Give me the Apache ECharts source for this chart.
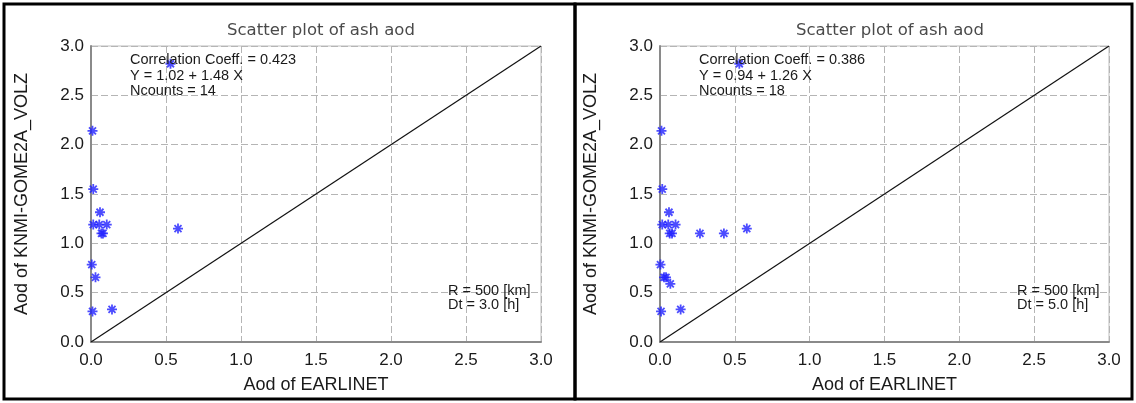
<!DOCTYPE html>
<html>
<head>
<meta charset="utf-8">
<script src="https://cdn.jsdelivr.net/npm/echarts@6/dist/echarts.min.js"></script>
<style>
  html, body { margin: 0; padding: 0; background: #fff; }
  #chart { width: 1136px; height: 403px; }
</style>
</head>
<body>
<div id="chart"></div>
<script>
// Ash AOD: satellite (KNMI-GOME2A_VOLZ) against ground lidar (EARLINET)
// Panel 1: R = 500 km, Dt = 3.0 h
const earlinet3h = [0.53, 0.01, 0.015, 0.06, 0.015, 0.055, 0.105, 0.07, 0.08, 0.58, 0.005, 0.03, 0.01, 0.14];
const gome3h     = [2.82, 2.14, 1.55, 1.315, 1.19, 1.19, 1.19, 1.10, 1.10, 1.15, 0.785, 0.655, 0.31, 0.33];
// Panel 2: R = 500 km, Dt = 5.0 h
const earlinet5h = [0.53, 0.01, 0.015, 0.06, 0.015, 0.055, 0.104, 0.065, 0.08, 0.267, 0.427, 0.58, 0.003, 0.027, 0.04, 0.069, 0.007, 0.138];
const gome5h     = [2.82, 2.14, 1.55, 1.315, 1.19, 1.19, 1.19, 1.10, 1.10, 1.10, 1.10, 1.15, 0.785, 0.655, 0.655, 0.59, 0.31, 0.33];
// 1:1 reference line end points
const oneToOne = [0, 3];
const axisTicks = [0.0, 0.5, 1.0, 1.5, 2.0, 2.5, 3.0];

const titleText = 'Scatter plot of ash aod';
const xName = 'Aod of EARLINET';
const yName = 'Aod of KNMI-GOME2A_VOLZ';
const stats3h = ['Correlation Coeff. = 0.423', 'Y = 1.02 + 1.48 X', 'Ncounts = 14'];
const stats5h = ['Correlation Coeff. = 0.386', 'Y = 0.94 + 1.26 X', 'Ncounts = 18'];
const window3h = ['R = 500 [km]', 'Dt = 3.0 [h]'];
const window5h = ['R = 500 [km]', 'Dt = 5.0 [h]'];

const FONT = "'Liberation Sans', Arial, sans-serif";
// asterisk marker: plus + cross strokes
const ASTERISK = 'path://M0,-10L0,10M-10,0L10,0M-7,-7L7,7M-7,7L7,-7';

const grids = [
  { left: 91, top: 46, width: 450, height: 296 },
  { left: 660, top: 46, width: 449, height: 296 }
];

function axisCommon(gi, isX) {
  return {
    type: 'value', gridIndex: gi, min: 0, max: 3, interval: 0.5,
    name: isX ? xName : yName,
    nameLocation: 'middle',
    nameGap: isX ? 34 : 60,
    nameTextStyle: { fontFamily: FONT, fontSize: 18, color: '#1a1a1a' },
    axisLine: { show: true, lineStyle: { color: '#8a8a8a', width: 2 } },
    axisTick: { show: false },
    axisLabel: {
      fontFamily: FONT, fontSize: 17, color: '#1a1a1a', margin: isX ? 10 : 7,
      showMinLabel: true, showMaxLabel: true,
      formatter: v => axisTicks.find(t => Math.abs(t - v) < 1e-9).toFixed(1)
    },
    splitLine: { show: true, lineStyle: { color: '#b5b5b5', width: 1, type: [7, 3] } }
  };
}

function pairs(xs, ys) { return xs.map((x, i) => [x, ys[i]]); }

function statsText(lines, x, y, gap) {
  return lines.map((t, i) => ({
    type: 'text', x: x, y: y + i * gap, z: 10,
    style: { text: t, font: '14.5px ' + FONT, fill: '#1a1a1a', verticalAlign: 'middle' }
  }));
}

const titleStyle = { fontFamily: "'DejaVu Sans', sans-serif", fontWeight: 'normal', fontSize: 16.5, color: '#4a4a4a' };

const chart = echarts.init(document.getElementById('chart'));
chart.setOption({
  animation: false,
  backgroundColor: '#fff',
  title: [
    { text: titleText, left: 316, top: 17, textAlign: 'center', textStyle: titleStyle },
    { text: titleText, left: 885, top: 17, textAlign: 'center', textStyle: titleStyle }
  ],
  grid: grids.map(g => Object.assign({ show: true, borderColor: '#bdbdbd', borderWidth: 1 }, g)),
  xAxis: [axisCommon(0, true), axisCommon(1, true)],
  yAxis: [axisCommon(0, false), axisCommon(1, false)],
  series: [
    { type: 'line', xAxisIndex: 0, yAxisIndex: 0, data: pairs(oneToOne, oneToOne),
      symbol: 'none', silent: true, lineStyle: { color: '#111', width: 1.2 } },
    { type: 'line', xAxisIndex: 1, yAxisIndex: 1, data: pairs(oneToOne, oneToOne),
      symbol: 'none', silent: true, lineStyle: { color: '#111', width: 1.2 } },
    { type: 'scatter', xAxisIndex: 0, yAxisIndex: 0, data: pairs(earlinet3h, gome3h),
      symbol: ASTERISK, symbolSize: 10, z: 5,
      itemStyle: { color: 'rgba(0,0,0,0)', borderColor: '#1f1fff', borderWidth: 1.8 } },
    { type: 'scatter', xAxisIndex: 1, yAxisIndex: 1, data: pairs(earlinet5h, gome5h),
      symbol: ASTERISK, symbolSize: 10, z: 5,
      itemStyle: { color: 'rgba(0,0,0,0)', borderColor: '#1f1fff', borderWidth: 1.8 } }
  ],
  graphic: [
    // panel frames
    { type: 'rect', shape: { x: 4, y: 4, width: 571, height: 395 }, z: 20,
      style: { fill: null, stroke: '#000', lineWidth: 3 } },
    { type: 'rect', shape: { x: 575, y: 4, width: 557, height: 395 }, z: 20,
      style: { fill: null, stroke: '#000', lineWidth: 3 } }
  ]
    .concat(statsText(stats3h, 130, 60, 15.5))
    .concat(statsText(stats5h, 699, 60, 15.5))
    .concat(statsText(window3h, 448, 291, 13.5))
    .concat(statsText(window5h, 1017, 291, 13.5))
});
</script>
</body>
</html>
